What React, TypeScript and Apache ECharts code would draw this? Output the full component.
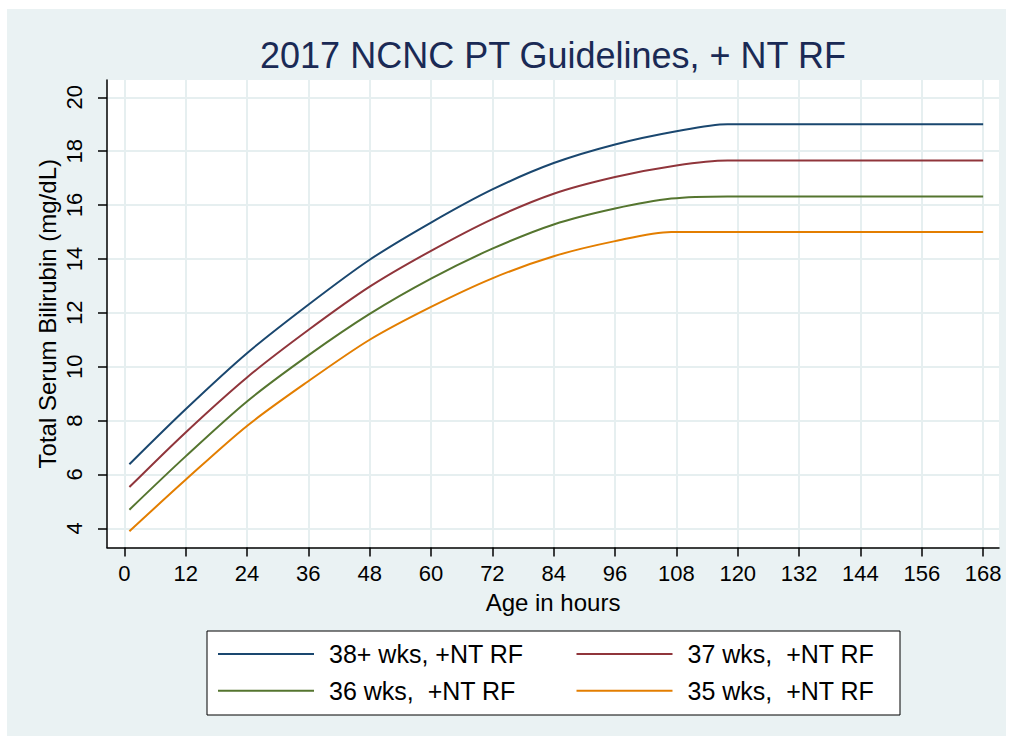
import React, { useEffect, useRef } from 'react';
import * as echarts from 'echarts';

const xTicks = [0, 12, 24, 36, 48, 60, 72, 84, 96, 108, 120, 132, 144, 156, 168];
const yTicks = [4, 6, 8, 10, 12, 14, 16, 18, 20];

const hours38 = [1, 12, 24, 36, 48, 60, 72, 84, 96, 108, 118, 120, 132, 144, 156, 168];
const tsb38 = [6.38, 8.42, 10.5, 12.3, 13.97, 15.35, 16.58, 17.56, 18.25, 18.74, 19.0, 19.0, 19.0, 19.0, 19.0, 19.0];

const hours37 = [1, 12, 24, 36, 48, 60, 72, 84, 96, 108, 118, 120, 132, 144, 156, 168];
const tsb37 = [5.53, 7.56, 9.6, 11.36, 12.97, 14.3, 15.48, 16.42, 17.04, 17.47, 17.65, 17.65, 17.65, 17.65, 17.65, 17.65];

const hours36 = [1, 12, 24, 36, 48, 60, 72, 84, 96, 107, 118, 120, 132, 144, 156, 168];
const tsb36 = [4.69, 6.67, 8.71, 10.42, 11.96, 13.27, 14.38, 15.28, 15.87, 16.24, 16.32, 16.32, 16.32, 16.32, 16.32, 16.32];

const hours35 = [1, 12, 24, 36, 48, 60, 72, 84, 96, 107, 108, 120, 132, 144, 156, 168];
const tsb35 = [3.89, 5.8, 7.8, 9.46, 11.0, 12.22, 13.28, 14.1, 14.66, 15.0, 15.0, 15.0, 15.0, 15.0, 15.0, 15.0];

const seriesNames = ['38+ wks, +NT RF', '37 wks,  +NT RF', '36 wks,  +NT RF', '35 wks,  +NT RF'];
const seriesColors = ['#1A476F', '#90353B', '#55752F', '#E37E00'];

const FONT = "Helvetica, 'Liberation Sans', Arial, sans-serif";

function pairs(h: number[], v: number[]) {
  return h.map((x, i) => [x, v[i]]);
}

export default function App() {
  const ref = useRef<HTMLDivElement>(null);
  useEffect(() => {
    const chart = echarts.init(ref.current!, null, { renderer: 'svg' });
    const dataSets = [pairs(hours38, tsb38), pairs(hours37, tsb37), pairs(hours36, tsb36), pairs(hours35, tsb35)];
    const legendText = {
      fontSize: 25,
      lineHeight: 26,
      color: '#000',
      fontFamily: FONT,
      padding: [0, 0, 0, 10],
    };
    const legendBase = {
      orient: 'vertical',
      top: 641,
      padding: 0,
      itemGap: 10.7,
      itemWidth: 96,
      itemHeight: 2,
      icon: 'rect',
      textStyle: legendText,
      selectedMode: false,
    };
    chart.setOption({
      animation: false,
      backgroundColor: '#ffffff',
      title: {
        text: '2017 NCNC PT Guidelines, + NT RF',
        left: 553,
        top: 37,
        textAlign: 'center',
        padding: 0,
        textStyle: { fontSize: 36, fontWeight: 'normal', color: '#1A2A55', fontFamily: FONT },
      },
      graphic: [
        {
          type: 'rect',
          z: -100,
          shape: { x: 7, y: 9, width: 999, height: 727 },
          style: { fill: '#EAF2F3' },
          silent: true,
        },
        {
          type: 'rect',
          z: 1,
          shape: { x: 207, y: 631, width: 693, height: 84 },
          style: { fill: '#ffffff', stroke: '#000', lineWidth: 1 },
          silent: true,
        },
      ],
      legend: [
        { ...legendBase, left: 218, data: [seriesNames[0], seriesNames[2]] },
        { ...legendBase, left: 576.5, data: [seriesNames[1], seriesNames[3]] },
      ],
      grid: {
        left: 107,
        top: 80,
        width: 892,
        height: 467.5,
        show: true,
        backgroundColor: '#ffffff',
        borderWidth: 0,
        containLabel: false,
        outerBoundsMode: 'none',
      },
      xAxis: {
        type: 'value',
        min: -3.38,
        max: 171.1,
        name: 'Age in hours',
        nameLocation: 'middle',
        nameGap: 43,
        nameMoveOverlap: false,
        nameTextStyle: { fontSize: 24, color: '#000', fontFamily: FONT },
        axisLine: { show: true, onZero: false, lineStyle: { color: '#000', width: 1.5 } },
        axisTick: { show: true, length: 9, customValues: xTicks, lineStyle: { color: '#000', width: 1.5 } },
        axisLabel: { customValues: xTicks, fontSize: 22, color: '#000', margin: 15, fontFamily: FONT },
        splitLine: { show: true, lineStyle: { color: '#E6EFF0', width: 2 } },
      },
      yAxis: {
        type: 'value',
        min: 3.287,
        max: 20.642,
        name: 'Total Serum Bilirubin (mg/dL)',
        nameLocation: 'middle',
        nameGap: 48,
        nameMoveOverlap: false,
        nameTextStyle: { fontSize: 24, color: '#000', fontFamily: FONT },
        axisLine: { show: true, onZero: false, lineStyle: { color: '#000', width: 1.5 } },
        axisTick: { show: true, length: 9, customValues: yTicks, lineStyle: { color: '#000', width: 1.5 } },
        axisLabel: { customValues: yTicks, rotate: 90, fontSize: 22, color: '#000', margin: 22, fontFamily: FONT },
        splitLine: { show: true, lineStyle: { color: '#E6EFF0', width: 2 } },
      },
      series: seriesNames.map((name, i) => ({
        name,
        type: 'line',
        data: dataSets[i],
        symbol: 'none',
        showSymbol: false,
        smooth: 0.3,
        color: seriesColors[i],
        lineStyle: { color: seriesColors[i], width: 2 },
      })),
    });
    return () => chart.dispose();
  }, []);
  return (
    <div
      ref={ref}
      style={{ position: 'fixed', left: 0, top: 0, width: 1013, height: 742, background: '#fff' }}
    />
  );
}
